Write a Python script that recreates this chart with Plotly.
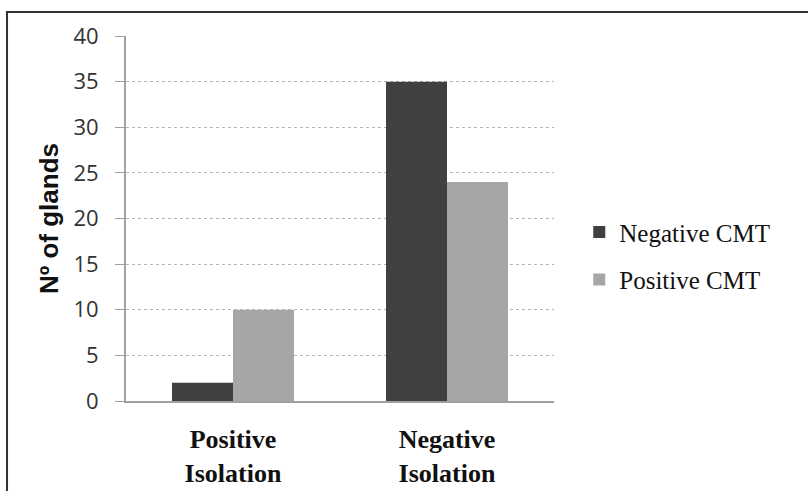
import plotly.graph_objects as go

categories = ["Positive<br>Isolation", "Negative<br>Isolation"]
negative_cmt = [2, 35]
positive_cmt = [10, 24]
y_ticks = [0, 5, 10, 15, 20, 25, 30, 35, 40]

fig = go.Figure()
fig.add_trace(go.Bar(x=categories, y=negative_cmt, name="Negative CMT",
                     marker=dict(color="#404040", line=dict(width=0)),
                     legendgroup="a"))
fig.add_trace(go.Bar(x=categories, y=positive_cmt, name="Positive CMT",
                     marker=dict(color="#a6a6a6", line=dict(width=0)),
                     legendgroup="b"))

fig.update_layout(
    width=808, height=491,
    margin=dict(l=126, r=254, t=36, b=90),
    paper_bgcolor="white", plot_bgcolor="white",
    barmode="group", bargap=0.43, bargroupgap=0,
    showlegend=True,
    legend=dict(x=1.059, y=0.398, xanchor="left", yanchor="middle",
                font=dict(family="Liberation Serif", size=25, color="#111"),
                tracegroupgap=12, itemwidth=30),
    xaxis=dict(showline=True, linecolor="#a0a0a0", linewidth=2,
               ticks="", ticklabelstandoff=14, automargin=False,
               tickfont=dict(family="Liberation Serif", size=26,
                             color="#111", weight="bold"),
               showgrid=False),
    yaxis=dict(range=[0, 40], tickvals=y_ticks, showline=True,
               linecolor="#a0a0a0", linewidth=2, ticks="outside",
               ticklen=9, tickcolor="#a0a0a0", ticklabelstandoff=12,
               automargin=False,
               tickfont=dict(family="Open Sans", size=22, color="#333"),
               showgrid=True, gridcolor="#b5b5b5", griddash="dot",
               gridwidth=1, zeroline=False,
               title=dict(text="<b>Nº of glands</b>", standoff=7,
                          font=dict(family="Liberation Sans", size=26,
                                    color="#111"))),
    shapes=[dict(type="rect", xref="paper", yref="paper",
                 x0=-0.278, x1=1.62, y0=-0.3, y1=1.066,
                 line=dict(color="#333", width=2), layer="below")],
)

fig.write_html("out.html")
